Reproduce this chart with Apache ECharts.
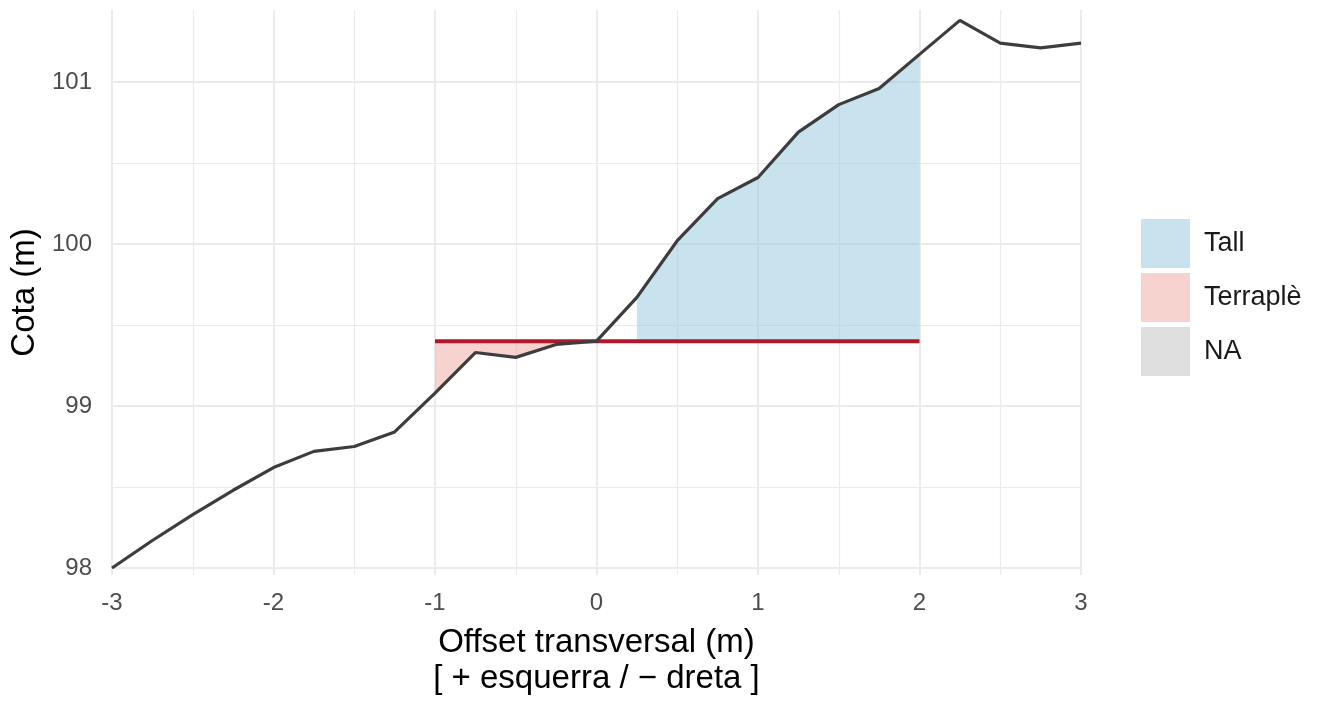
<!DOCTYPE html>
<html>
<head>
<meta charset="utf-8">
<script src="https://cdn.jsdelivr.net/npm/echarts@6/dist/echarts.min.js"></script>
<style>
html, body { margin: 0; padding: 0; background: #fff; }
#main { width: 1325px; height: 705px; }
</style>
</head>
<body>
<div id="main"></div>
<script>
// perfil transversal del terreny
var offsets = [-3, -2.75, -2.5, -2.25, -2, -1.75, -1.5, -1.25, -1, -0.75, -0.5, -0.25, 0,
    0.25, 0.5, 0.75, 1, 1.25, 1.5, 1.75, 2, 2.25, 2.5, 2.75, 3];
var cota = [98.00, 98.17, 98.33, 98.48, 98.62, 98.72, 98.75, 98.84, 99.08, 99.33, 99.30, 99.38, 99.40,
    99.67, 100.02, 100.28, 100.41, 100.69, 100.86, 100.96, 101.17, 101.38, 101.24, 101.21, 101.24];

// rasant (plataforma)
var rasantX = [-1, 2];
var rasantY = 99.40;

// trams de tall i terraplè
var tallX = [0.25, 2];
var terrapleX = [-1, 0];

var legendNames = ['Tall', 'Terraplè', 'NA'];
var legendColors = ['rgba(146,197,222,0.5)', 'rgba(238,168,160,0.5)', 'rgba(190,190,190,0.5)'];

var FONT = 'Liberation Sans, Arial, sans-serif';

function pointsIn(range) {
    var pts = [];
    offsets.forEach(function (x, i) {
        if (x >= range[0] - 1e-9 && x <= range[1] + 1e-9) pts.push([x, cota[i]]);
    });
    return pts;
}

function fillItem(pts, color) {
    return function (params, api) {
        if (params.dataIndex !== 0) return null;
        var poly = pts.map(function (p) { return api.coord(p); });
        for (var i = pts.length - 1; i >= 0; i--) {
            poly.push(api.coord([pts[i][0], rasantY]));
        }
        return { type: 'polygon', shape: { points: poly }, style: { fill: color } };
    };
}

var tallPts = pointsIn(tallX);
var terraplePts = pointsIn(terrapleX);
var groundData = offsets.map(function (x, i) { return [x, cota[i]]; });

var chartDom = document.getElementById('main');
var myChart = echarts.init(chartDom);
var option;

option = {
    animation: false,
    backgroundColor: '#fff',
    grid: { left: 112, right: 244, top: 10, bottom: 130 },
    legend: {
        orient: 'vertical',
        left: 1136,
        top: 214,
        icon: 'rect',
        itemWidth: 49,
        itemHeight: 49,
        itemGap: 5,
        data: legendNames,
        selectedMode: false,
        textStyle: { fontFamily: FONT, fontSize: 27, color: '#1a1a1a', padding: [0, 0, 0, 9] }
    },
    xAxis: {
        type: 'value',
        min: -3,
        max: 3,
        interval: 1,
        name: 'Offset transversal (m)\n[ + esquerra / \u2212 dreta ]',
        nameLocation: 'middle',
        nameGap: 50,
        nameTextStyle: { fontFamily: FONT, fontSize: 33, lineHeight: 36, color: '#000' },
        axisLine: { show: false },
        axisTick: { show: false },
        axisLabel: { fontFamily: FONT, fontSize: 24, color: '#4d4d4d', margin: 16 },
        splitLine: { lineStyle: { color: '#ebebeb', width: 2 } },
        minorTick: { show: false, splitNumber: 2 },
        minorSplitLine: { show: true, lineStyle: { color: '#ebebeb', width: 1.2 } }
    },
    yAxis: {
        type: 'value',
        min: 97.957,
        max: 101.444,
        minInterval: 1,
        maxInterval: 1,
        name: 'Cota (m)',
        nameLocation: 'middle',
        nameGap: 66,
        nameTextStyle: { fontFamily: FONT, fontSize: 33, color: '#000' },
        axisLine: { show: false },
        axisTick: { show: false },
        axisLabel: {
            fontFamily: FONT, fontSize: 24, color: '#4d4d4d', margin: 20,
            showMinLabel: true, showMaxLabel: true,
            formatter: function (v) { return Math.abs(v - Math.round(v)) < 1e-6 ? String(Math.round(v)) : ''; }
        },
        splitLine: { showMinLine: false, showMaxLine: false, lineStyle: { color: '#ebebeb', width: 2 } },
        minorTick: { show: false, splitNumber: 2 },
        minorSplitLine: { show: true, lineStyle: { color: '#ebebeb', width: 1.2 } }
    },
    series: [
        {
            name: 'Tall',
            type: 'custom',
            data: tallPts,
            encode: { x: 0, y: 1 },
            itemStyle: { color: legendColors[0] },
            renderItem: fillItem(tallPts, legendColors[0]),
            z: 1
        },
        {
            name: 'Terraplè',
            type: 'custom',
            data: terraplePts,
            encode: { x: 0, y: 1 },
            itemStyle: { color: legendColors[1] },
            renderItem: fillItem(terraplePts, legendColors[1]),
            z: 1
        },
        {
            name: 'NA',
            type: 'custom',
            data: [],
            itemStyle: { color: legendColors[2] },
            renderItem: function () { return null; },
            z: 1
        },
        {
            name: 'rasant',
            type: 'line',
            data: [[rasantX[0], rasantY], [rasantX[1], rasantY]],
            symbol: 'none',
            lineStyle: { color: '#b2182b', width: 4 },
            z: 3
        },
        {
            name: 'terreny',
            type: 'line',
            data: groundData,
            symbol: 'none',
            lineStyle: { color: '#3d3d3d', width: 3.2 },
            z: 4
        }
    ]
};

option && myChart.setOption(option);
</script>
</body>
</html>
